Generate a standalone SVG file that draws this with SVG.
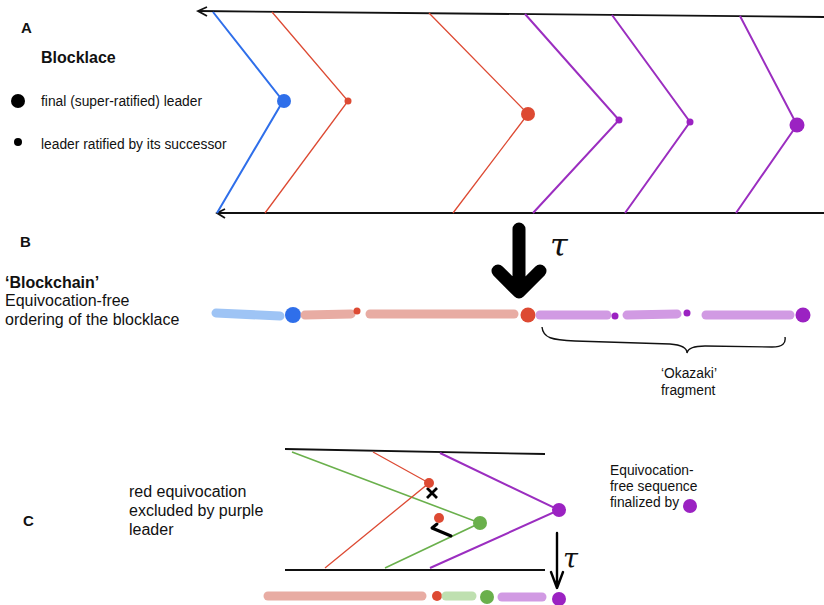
<svg xmlns="http://www.w3.org/2000/svg" width="824" height="605" viewBox="0 0 824 605">
<style>
text{font-family:"Liberation Sans",Arial,sans-serif;fill:#111}
.lbl{font-weight:bold;font-size:15px}
.t12{font-size:13.8px}
.t14{font-size:16px}
.blk{stroke:#111;stroke-width:1.8;fill:none}
.red{stroke:#dd4a33;stroke-width:1.3;fill:none}
.blu{stroke:#2f6fea;stroke-width:2;fill:none}
.pur{stroke:#9b2ec0;stroke-width:2;fill:none}
.grn{stroke:#6ab04c;stroke-width:1.6;fill:none}
.seg{stroke-width:9;stroke-linecap:round;fill:none}
.sb{stroke:#9ec4f5}.sr{stroke:#e8aca3}.sp{stroke:#d19ae3}.sg{stroke:#bfe0b0}
.fr{fill:#dd4a33}.fb{fill:#2f6fea}.fp{fill:#9b22c2}.fg{fill:#6ab04c}.fk{fill:#000}
</style>
<rect width="824" height="605" fill="#fff"/>

<!-- Section A labels -->
<g id="labelA">
<text x="21" y="33" class="lbl">A</text>
<text x="41" y="63" class="lbl" style="font-size:16px">Blocklace</text>
<circle cx="18" cy="101" r="7" class="fk"/>
<text x="41" y="106" class="t12">final (super-ratified) leader</text>
<circle cx="18" cy="142" r="4" class="fk"/>
<text x="41" y="149" class="t12">leader ratified by its successor</text>
</g>

<!-- Section A blocklace -->
<g id="connectorsA">
<path class="blk" d="M198,11 L824,17"/>
<path class="blk" d="M207,7 L198,11 L207,16"/>
<path class="blk" d="M217,213 L824,213"/>
<path class="blk" d="M225,209 L217,213 L225,218"/>
<path class="blu" d="M213,12 L283,101 L217,213"/>
<path class="red" d="M272,12 L348,101 L265,213"/>
<path class="red" d="M429,13 L528,114 L453,213"/>
<path class="pur" d="M525,14 L619,120 L533,213"/>
<path class="pur" d="M612,15 L690,122 L625,213"/>
<path class="pur" d="M740,16 L797,125 L736,213"/>
</g>
<g id="leaderBlue1"><circle cx="284" cy="101" r="7" class="fb"/></g>
<g id="leaderRed1"><circle cx="348" cy="101" r="3.5" class="fr"/></g>
<g id="leaderRed2"><circle cx="528" cy="114" r="7" class="fr"/></g>
<g id="leaderPur1"><circle cx="619" cy="120" r="3.5" class="fp"/></g>
<g id="leaderPur2"><circle cx="690" cy="122" r="3.5" class="fp"/></g>
<g id="leaderPur3"><circle cx="797" cy="125" r="7.5" class="fp"/></g>

<!-- Section B -->
<g id="labelB">
<text x="20" y="247" class="lbl">B</text>
<text x="5" y="288" class="t14" style="font-weight:bold">‘Blockchain’</text>
<text x="5" y="306" class="t14">Equivocation-free</text>
<text x="5" y="325" class="t14">ordering of the blocklace</text>
</g>
<g id="tauArrow">
<path d="M519,229 L519,290 M498,271 L519,292 L540,271" stroke="#000" stroke-width="13" stroke-linecap="round" stroke-linejoin="round" fill="none"/>
<text x="550" y="256" style="font-family:'DejaVu Serif',serif;font-style:italic;font-size:32px">τ</text>
</g>
<g id="chainB">
<path class="seg sb" d="M216,313 L280,316"/>
<circle cx="293" cy="315" r="8" class="fb"/>
<path class="seg sr" d="M305,315 L351,314"/>
<circle cx="357" cy="311" r="3.5" class="fr"/>
<path class="seg sr" d="M370,314 L514,314"/>
<circle cx="528" cy="315" r="7.5" class="fr"/>
<path class="seg sp" d="M540,315 L607,315"/>
<circle cx="615" cy="316" r="3.5" class="fp"/>
<path class="seg sp" d="M627,315 L677,314"/>
<circle cx="687" cy="313" r="3.5" class="fp"/>
<path class="seg sp" d="M706,315 L790,315"/>
<circle cx="803" cy="315" r="7.5" class="fp"/>
</g>
<g id="brace">
<path d="M542,327 C543,338 552,340 575,341 L670,344 C684,345 687,349 687,353 C688,348 693,346 705,346 L772,347 C783,347 786,343 785,337" stroke="#111" stroke-width="1.4" fill="none"/>
<text x="661" y="378" class="t12">‘Okazaki’</text>
<text x="661" y="395" class="t12">fragment</text>
</g>

<!-- Section C -->
<g id="labelC">
<text x="23" y="526" class="lbl">C</text>
<text x="129" y="497" class="t14">red equivocation</text>
<text x="129" y="516" class="t14">excluded by purple</text>
<text x="129" y="535" class="t14">leader</text>
</g>
<g id="connectorsC">
<path class="blk" d="M285,449 L545,454"/>
<path class="blk" d="M285,570 L545,570"/>
<path class="grn" d="M292,452 L480,523 L385,568"/>
<path class="red" d="M373,452 L429,483 L325,568"/>
<path class="pur" d="M440,453 L559,510 L430,568"/>
<path d="M427,488 L437,498 M437,488 L427,498" stroke="#000" stroke-width="2.8" fill="none"/>
<path d="M437,524 L432,528 L451,536" stroke="#000" stroke-width="3" stroke-linecap="round" stroke-linejoin="round" fill="none"/>
<path d="M557,533 L557,587 M551,572 L557,588 L563,572" stroke="#000" stroke-width="2.4" stroke-linecap="round" stroke-linejoin="round" fill="none"/>
<text x="563" y="568" style="font-family:'DejaVu Serif',serif;font-style:italic;font-size:27px">τ</text>
</g>
<g id="redC1"><circle cx="429" cy="483" r="5" class="fr"/></g>
<g id="redC2"><circle cx="439" cy="518" r="5" class="fr"/></g>
<g id="greenC"><circle cx="480" cy="523" r="7" class="fg"/></g>
<g id="purpleC"><circle cx="559" cy="510" r="7" class="fp"/></g>
<g id="chainC">
<path class="seg sr" d="M268,596 L422,596"/>
<circle cx="437" cy="596" r="5" class="fr"/>
<path class="seg sg" d="M446,596 L472,596"/>
<circle cx="487" cy="597" r="7" class="fg"/>
<path class="seg sp" d="M502,597 L542,597"/>
<circle cx="559" cy="599" r="7" class="fp"/>
</g>
<g id="noteC">
<text x="610" y="475" class="t12">Equivocation-</text>
<text x="610" y="491" class="t12">free sequence</text>
<text x="610" y="507" class="t12">finalized by</text>
<circle cx="690" cy="506" r="7" class="fp"/>
</g>
</svg>
